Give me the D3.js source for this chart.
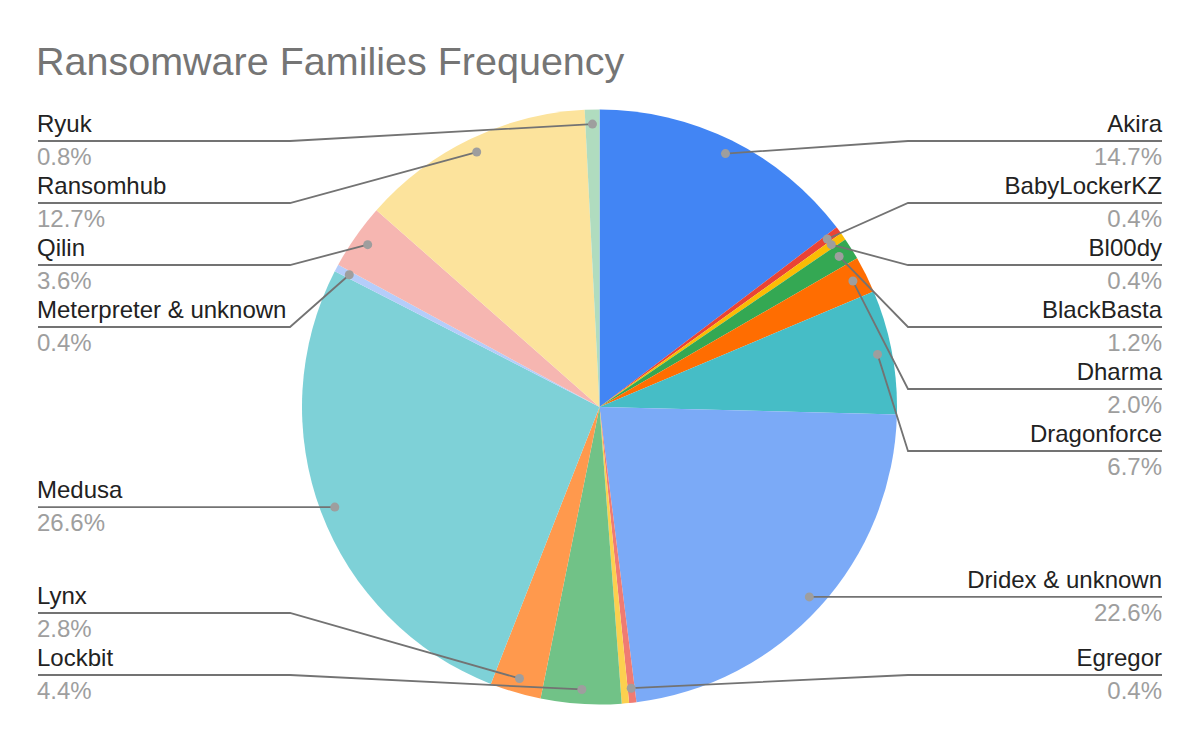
<!DOCTYPE html>
<html>
<head>
<meta charset="utf-8">
<script src="https://cdn.jsdelivr.net/npm/d3@7"></script>
<style>
  body { margin: 0; background: #fff; }
  text { font-family: Arial, "Liberation Sans", sans-serif; }
</style>
</head>
<body>
<svg id="chart"></svg>
<script>
// ransomware families, counts per family (order as in the sheet)
const families = [
  'Akira', 'BabyLockerKZ', 'Bl00dy', 'BlackBasta', 'Dharma', 'Dragonforce',
  'Dridex & unknown', 'Egregor', 'Other', 'Lockbit', 'Lynx', 'Medusa',
  'Meterpreter & unknown', 'Qilin', 'Ransomhub', 'Ryuk',
];
const counts = [37, 1, 1, 3, 5, 17, 57, 1, 1, 11, 7, 67, 1, 9, 32, 2];
// the one slice google sheets left without a label
const hiddenLabels = ['Other'];
const sliceColors = [
  '#4285f4', '#ea4335', '#fbbc04', '#34a853', '#ff6d01', '#46bdc6',
  '#7baaf7', '#f07b72', '#fcd04f', '#71c287', '#ff994d', '#7ed1d7',
  '#b5cdfa', '#f6b6b1', '#fce39c', '#b0dcbf',
];

const config = {
  width: 1200,
  height: 742,
  cx: 599.5,
  cy: 407,
  radius: 297.5,
  dotRadius: 283,
  labelMinY: 141,
  labelMaxY: 675,
  labelGap: 62,
  leftX: 38,
  leftElbow: 290,
  rightX: 1162,
  rightElbow: 908,
};

const svg = d3.select('#chart')
  .attr('width', config.width)
  .attr('height', config.height);

svg.append('text')
  .attr('x', 36)
  .attr('y', 75)
  .attr('font-size', 39.5)
  .attr('fill', '#757575')
  .text('Ransomware Families Frequency');

const data = families.map((name, i) => ({ name, value: counts[i], color: sliceColors[i] }));
const total = d3.sum(counts);
const fmt = d3.format('.1%');

const pie = d3.pie().sort(null).value((d) => d.value);
const arcs = pie(data);

const chart = svg.append('g')
  .attr('transform', `translate(${config.cx},${config.cy})`);

chart.selectAll('.slice')
  .data(arcs)
  .join('path')
  .attr('class', 'slice')
  .attr('fill', (d) => d.data.color)
  .attr('d', d3.arc().innerRadius(0).outerRadius(config.radius));

// anchor points for labels
const dotArc = d3.arc().innerRadius(config.dotRadius).outerRadius(config.dotRadius);
const labels = arcs
  .filter((d) => !hiddenLabels.includes(d.data.name))
  .map((d) => {
    const [x, y] = dotArc.centroid(d);
    const mid = (d.startAngle + d.endAngle) / 2;
    return {
      name: d.data.name,
      pct: fmt(d.data.value / total),
      dx: x + config.cx,
      dy: y + config.cy,
      side: mid < Math.PI ? 'right' : 'left',
    };
  });

// push overlapping labels apart: merge into clusters centred on their mean
function layoutSide(items) {
  items.sort((a, b) => a.dy - b.dy);
  let clusters = items.map((it) => ({ items: [it] }));
  const place = (c) => {
    const span = (c.items.length - 1) * config.labelGap;
    let top = d3.mean(c.items, (it) => it.dy) - span / 2;
    top = Math.max(config.labelMinY, Math.min(config.labelMaxY - span, top));
    c.top = top;
    c.bottom = top + span;
  };
  clusters.forEach(place);
  let merged = true;
  while (merged) {
    merged = false;
    for (let i = 0; i < clusters.length - 1; i++) {
      if (clusters[i + 1].top - clusters[i].bottom < config.labelGap) {
        clusters[i].items = clusters[i].items.concat(clusters[i + 1].items);
        clusters.splice(i + 1, 1);
        place(clusters[i]);
        merged = true;
        break;
      }
    }
  }
  clusters.forEach((c) => {
    c.items.forEach((it, k) => { it.ly = c.top + k * config.labelGap; });
  });
}
layoutSide(labels.filter((d) => d.side === 'left'));
layoutSide(labels.filter((d) => d.side === 'right'));

const labelGroups = svg.append('g')
  .selectAll('.label')
  .data(labels)
  .join('g')
  .attr('class', 'label');

labelGroups.append('polyline')
  .attr('fill', 'none')
  .attr('stroke', '#737373')
  .attr('stroke-width', 1.8)
  .attr('points', (d) => {
    const edge = d.side === 'left' ? config.leftX : config.rightX;
    const elbow = d.side === 'left' ? config.leftElbow : config.rightElbow;
    return `${edge},${d.ly} ${elbow},${d.ly} ${d.dx},${d.dy}`;
  });

labelGroups.append('circle')
  .attr('cx', (d) => d.dx)
  .attr('cy', (d) => d.dy)
  .attr('r', 4.5)
  .attr('fill', '#9e9e9e');

labelGroups.append('text')
  .attr('x', (d) => (d.side === 'left' ? config.leftX - 1 : config.rightX))
  .attr('y', (d) => d.ly - 9)
  .attr('text-anchor', (d) => (d.side === 'left' ? 'start' : 'end'))
  .attr('font-size', 24)
  .attr('fill', '#222')
  .text((d) => d.name);

labelGroups.append('text')
  .attr('x', (d) => (d.side === 'left' ? config.leftX - 1 : config.rightX))
  .attr('y', (d) => d.ly + 24)
  .attr('text-anchor', (d) => (d.side === 'left' ? 'start' : 'end'))
  .attr('font-size', 24)
  .attr('fill', '#9e9e9e')
  .text((d) => d.pct);
</script>
</body>
</html>
